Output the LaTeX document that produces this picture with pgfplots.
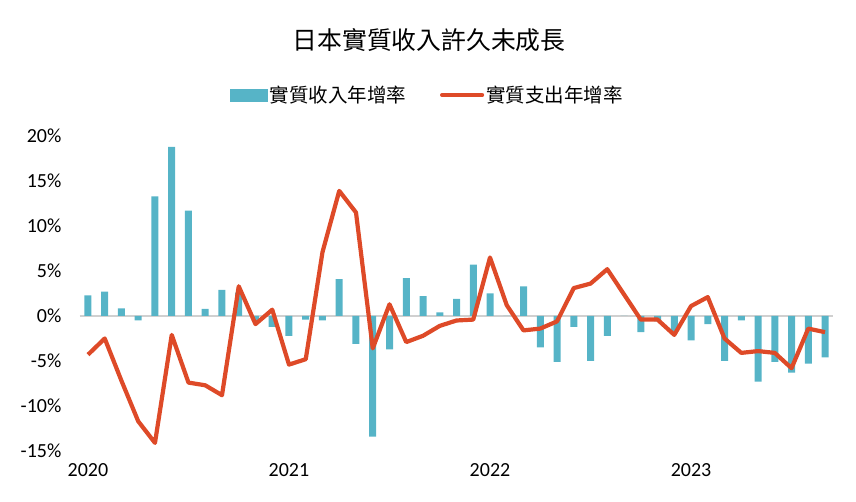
\documentclass[border=0pt]{standalone}
\usepackage{pgfplots}
\pgfplotsset{compat=1.18}
\usepackage{fontspec}
\setmainfont{Carlito}
\newfontfamily\cjk{Noto Sans CJK TC}
\definecolor{barc}{HTML}{56B4C7}
\definecolor{linec}{HTML}{DE4A28}
\definecolor{zeroc}{HTML}{D0D0D0}
\pgfplotstableread{
i inc exp
0 2.3 -4.3
1 2.7 -2.5
2 0.85 -7.2
3 -0.5 -11.7
4 13.3 -14.1
5 18.8 -2.1
6 11.7 -7.4
7 0.8 -7.7
8 2.9 -8.8
9 2.6 3.3
10 -0.6 -0.9
11 -1.2 0.7
12 -2.2 -5.4
13 -0.4 -4.8
14 -0.5 7.1
15 4.1 13.9
16 -3.1 11.5
17 -13.4 -3.6
18 -3.7 1.3
19 4.2 -2.9
20 2.2 -2.2
21 0.4 -1.1
22 1.9 -0.5
23 5.7 -0.4
24 2.5 6.5
25 0.0 1.2
26 3.3 -1.6
27 -3.5 -1.4
28 -5.1 -0.6
29 -1.2 3.1
30 -5.0 3.6
31 -2.2 5.2
32 0.0 2.4
33 -1.8 -0.4
34 -0.6 -0.4
35 -1.7 -2.1
36 -2.7 1.1
37 -0.9 2.1
38 -5.0 -2.5
39 -0.5 -4.1
40 -7.3 -3.9
41 -5.1 -4.1
42 -6.3 -5.8
43 -5.3 -1.4
44 -4.6 -1.8
}\data
\begin{document}
\begin{tikzpicture}[x=1pt,y=1pt]
\path[use as bounding box] (0,0) rectangle (856,502);
\begin{axis}[
  at={(79.6pt,51pt)}, anchor=south west,
  scale only axis, width=753.8pt, height=315pt,
  xmin=-0.5, xmax=44.5, ymin=-15, ymax=20,
  axis line style={draw=none},
  clip=false,
  xtick={0,12,24,36}, xticklabels={2020,2021,2022,2023},
  ytick={-15,-10,-5,0,5,10,15,20},
  yticklabels={-15\%,-10\%,-5\%,0\%,5\%,10\%,15\%,20\%},
  major tick length=0pt,
  tick label style={font=\fontsize{20}{22}\selectfont},
  yticklabel style={anchor=east, inner sep=0pt, xshift=-18pt},
  xticklabel style={anchor=north, inner sep=0pt, yshift=-12pt},
  legend style={at={(0.461,1.13)}, anchor=center, draw=none, fill=none,
    font=\cjk\fontsize{19.5}{22}\selectfont, legend columns=2,
    /tikz/every even column/.append style={column sep=32pt}},
]
\draw[zeroc, line width=1.5pt] (axis cs:-0.5,0) -- (axis cs:44.5,0);
\addplot[ybar, bar width=7pt, fill=barc, draw=none,
  legend image code/.code={\fill[barc] (-4pt,-6.5pt) rectangle (34pt,6.5pt);}]
  table[x=i,y=inc]{\data};
\addlegendentry{實質收入年增率}
\addplot[linec, line width=4.2pt, line join=round, mark=none,
  legend image code/.code={\draw[linec, line width=4.2pt, line cap=round] (0pt,0pt) -- (40pt,0pt);}]
  table[x=i,y=exp]{\data};
\addlegendentry{實質支出年增率}
\end{axis}
\node[font=\cjk\fontsize{24.8}{27}\selectfont] at (429,462) {日本實質收入許久未成長};
\end{tikzpicture}
\end{document}
